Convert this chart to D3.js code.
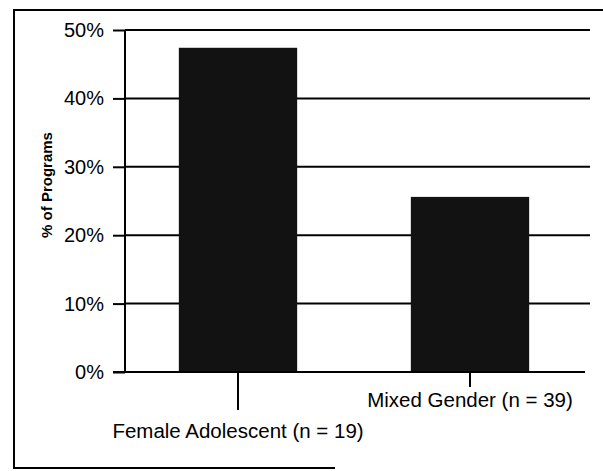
<!DOCTYPE html>
<html lang="en">
<head>
  <meta charset="UTF-8" />
  <title>% of Programs by group</title>
  <style>
    body { margin: 0; background: #fff; }
    svg text { font-family: "Liberation Sans", Arial, sans-serif; fill: #000; }
  </style>
</head>
<body>
  <div id="chart"></div>
  <script src="https://d3js.org/d3.v7.min.js"></script>
  <script>
    const categories = ['Female Adolescent (n = 19)', 'Mixed Gender (n = 39)'];
    const values = [47.4, 25.6];            // % of programs (9/19, 10/39)
    const yTicks = [0, 10, 20, 30, 40, 50];
    const yTitle = '% of Programs';

    const width = 603;
    const height = 471;

    const svg = d3.select('#chart')
      .append('svg')
      .attr('width', width)
      .attr('height', height);

    // outer frame (right side is cut off in the original)
    svg.append('path')
      .attr('d', 'M335,468 H14 V10 H603')
      .attr('fill', 'none')
      .attr('stroke', '#000')
      .attr('stroke-width', 2);

    const y = d3.scaleLinear().domain([0, 50]).range([372, 30]);
    const x = d3.scaleBand()
      .domain(categories)
      .range([122, 586])
      .paddingInner(0.49)
      .paddingOuter(0.245);

    const plotLeft = 125, plotRight = 590;

    // gridlines
    svg.append('g')
      .selectAll('line')
      .data(yTicks.filter(d => d > 0))
      .join('line')
      .attr('x1', plotLeft)
      .attr('x2', plotRight)
      .attr('y1', d => y(d))
      .attr('y2', d => y(d))
      .attr('stroke', '#000')
      .attr('stroke-width', 2);

    // bars
    svg.append('g')
      .selectAll('rect')
      .data(values)
      .join('rect')
      .attr('x', (d, i) => x(categories[i]))
      .attr('y', d => y(d))
      .attr('width', x.bandwidth())
      .attr('height', d => y(0) - y(d))
      .attr('fill', '#121212');

    // y axis
    const yAxis = svg.append('g')
      .attr('transform', `translate(${plotLeft},0)`)
      .call(d3.axisLeft(y).tickValues(yTicks).tickFormat(d => d + '%').tickSize(12).tickPadding(9));
    yAxis.selectAll('line, path').attr('stroke', '#000').attr('stroke-width', 2);
    yAxis.select('.domain').attr('d', `M0,${y(50)}V${y(0)}`);
    yAxis.selectAll('text').attr('font-size', 20).attr('fill', '#000');

    // x axis line
    svg.append('line')
      .attr('x1', plotLeft - 12)
      .attr('x2', 585)
      .attr('y1', y(0))
      .attr('y2', y(0))
      .attr('stroke', '#000')
      .attr('stroke-width', 2);

    // staggered category ticks and labels
    const tickLen = [38, 15];
    const labelY = [438, 407];
    const cat = svg.append('g')
      .selectAll('g')
      .data(categories)
      .join('g')
      .attr('transform', d => `translate(${x(d) + x.bandwidth() / 2},${y(0)})`);
    cat.append('line')
      .attr('y2', (d, i) => tickLen[i])
      .attr('stroke', '#000')
      .attr('stroke-width', 2);
    cat.append('text')
      .attr('y', (d, i) => labelY[i] - y(0))
      .attr('text-anchor', 'middle')
      .attr('font-size', 20.5)
      .text(d => d);

    // y title
    svg.append('text')
      .attr('transform', 'translate(52,185) rotate(-90)')
      .attr('text-anchor', 'middle')
      .attr('font-size', 15)
      .attr('font-weight', 'bold')
      .text(yTitle);
  </script>
</body>
</html>
